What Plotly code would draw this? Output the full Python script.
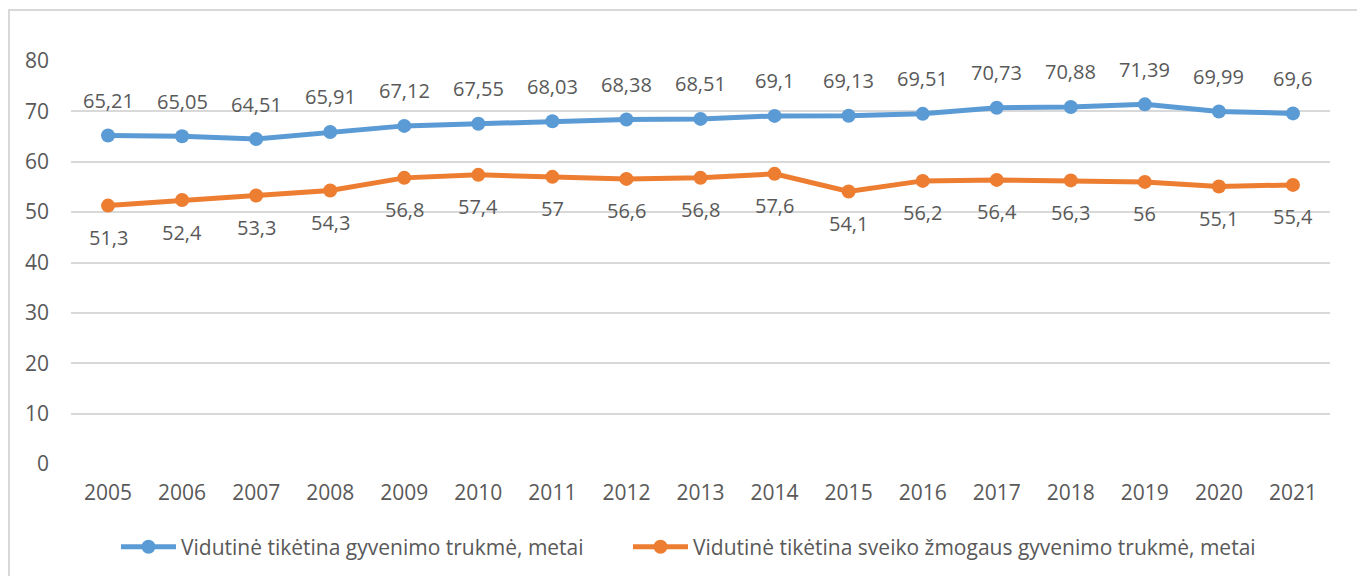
import plotly.graph_objects as go

# ---------- DATA ----------
metai = [str(m) for m in range(2005, 2022)]

gyvenimo_trukme = [65.21, 65.05, 64.51, 65.91, 67.12, 67.55, 68.03, 68.38, 68.51,
                   69.1, 69.13, 69.51, 70.73, 70.88, 71.39, 69.99, 69.6]
sveiko_trukme = [51.3, 52.4, 53.3, 54.3, 56.8, 57.4, 57.0, 56.6, 56.8,
                 57.6, 54.1, 56.2, 56.4, 56.3, 56.0, 55.1, 55.4]

pavadinimai = ["Vidutinė tikėtina gyvenimo trukmė, metai",
               "Vidutinė tikėtina sveiko žmogaus gyvenimo trukmė, metai"]

spalvos = ["#5B9BD5", "#ED7D31"]
tekstas = "#595959"
FONT = "Open Sans"

# ---------- DYDIS ----------
# puslapio body turi 8px paraštę, todėl figūra 8px mažesnė
W, H = 1357, 568
ML, MR, MT, MB = 63, 35, 53, 112
PW, PH = W - ML - MR, H - MT - MB


def fmt(v):
    # lietuviškas kablelis
    s = f"{v:.2f}".rstrip("0").rstrip(".")
    return s.replace(".", ",")


fig = go.Figure()
for vardas, y, sp, leg in zip(pavadinimai, [gyvenimo_trukme, sveiko_trukme],
                              spalvos, ["legend", "legend2"]):
    fig.add_trace(go.Scatter(
        x=metai, y=y, name=vardas, mode="lines+markers",
        line=dict(color=sp, width=5),
        marker=dict(color=sp, size=14),
        legend=leg,
    ))

# ---------- DATA LABELS ----------
# kategorijų ašyje anotacijoms naudojamas indeksas
for i, v in enumerate(gyvenimo_trukme):
    fig.add_annotation(x=i, y=v, text=fmt(v), showarrow=False, yshift=35,
                       font=dict(size=20, color=tekstas, family=FONT))
for i, v in enumerate(sveiko_trukme):
    fig.add_annotation(x=i, y=v, text=fmt(v), showarrow=False, yshift=-32,
                       font=dict(size=20, color=tekstas, family=FONT))

# ---------- BORDER ----------
fig.add_shape(type="rect", xref="paper", yref="paper",
              x0=(1 - ML) / PW, x1=(1351 - ML) / PW,
              y0=-0.3, y1=(H - MB - 2) / PH,
              line=dict(color="#D9D9D9", width=2), layer="below")

leg_stilius = dict(orientation="h", xanchor="left", y=0.051, yanchor="middle",
                   yref="container", font=dict(size=21, color=tekstas),
                   itemwidth=55, bgcolor="rgba(0,0,0,0)")

fig.update_layout(
    width=W, height=H,
    paper_bgcolor="white", plot_bgcolor="white",
    margin=dict(l=ML, r=MR, t=MT, b=MB),
    font=dict(family=FONT, size=21, color=tekstas),
    showlegend=True,
    legend=dict(x=(108 - ML) / PW, **leg_stilius),
    legend2=dict(x=(620 - ML) / PW, **leg_stilius),
)
fig.update_xaxes(type="category", range=[-0.5, len(metai) - 0.5],
                 showgrid=False, showline=False, ticks="", automargin=False,
                 tickfont=dict(size=21, color=tekstas), ticklabelstandoff=14)
fig.update_yaxes(range=[0, 80], dtick=10, showgrid=True, gridcolor="#D9D9D9",
                 gridwidth=2, zeroline=False, showline=False, automargin=False,
                 tickfont=dict(size=21, color=tekstas), ticklabelstandoff=21)

fig.write_html("out.html")
